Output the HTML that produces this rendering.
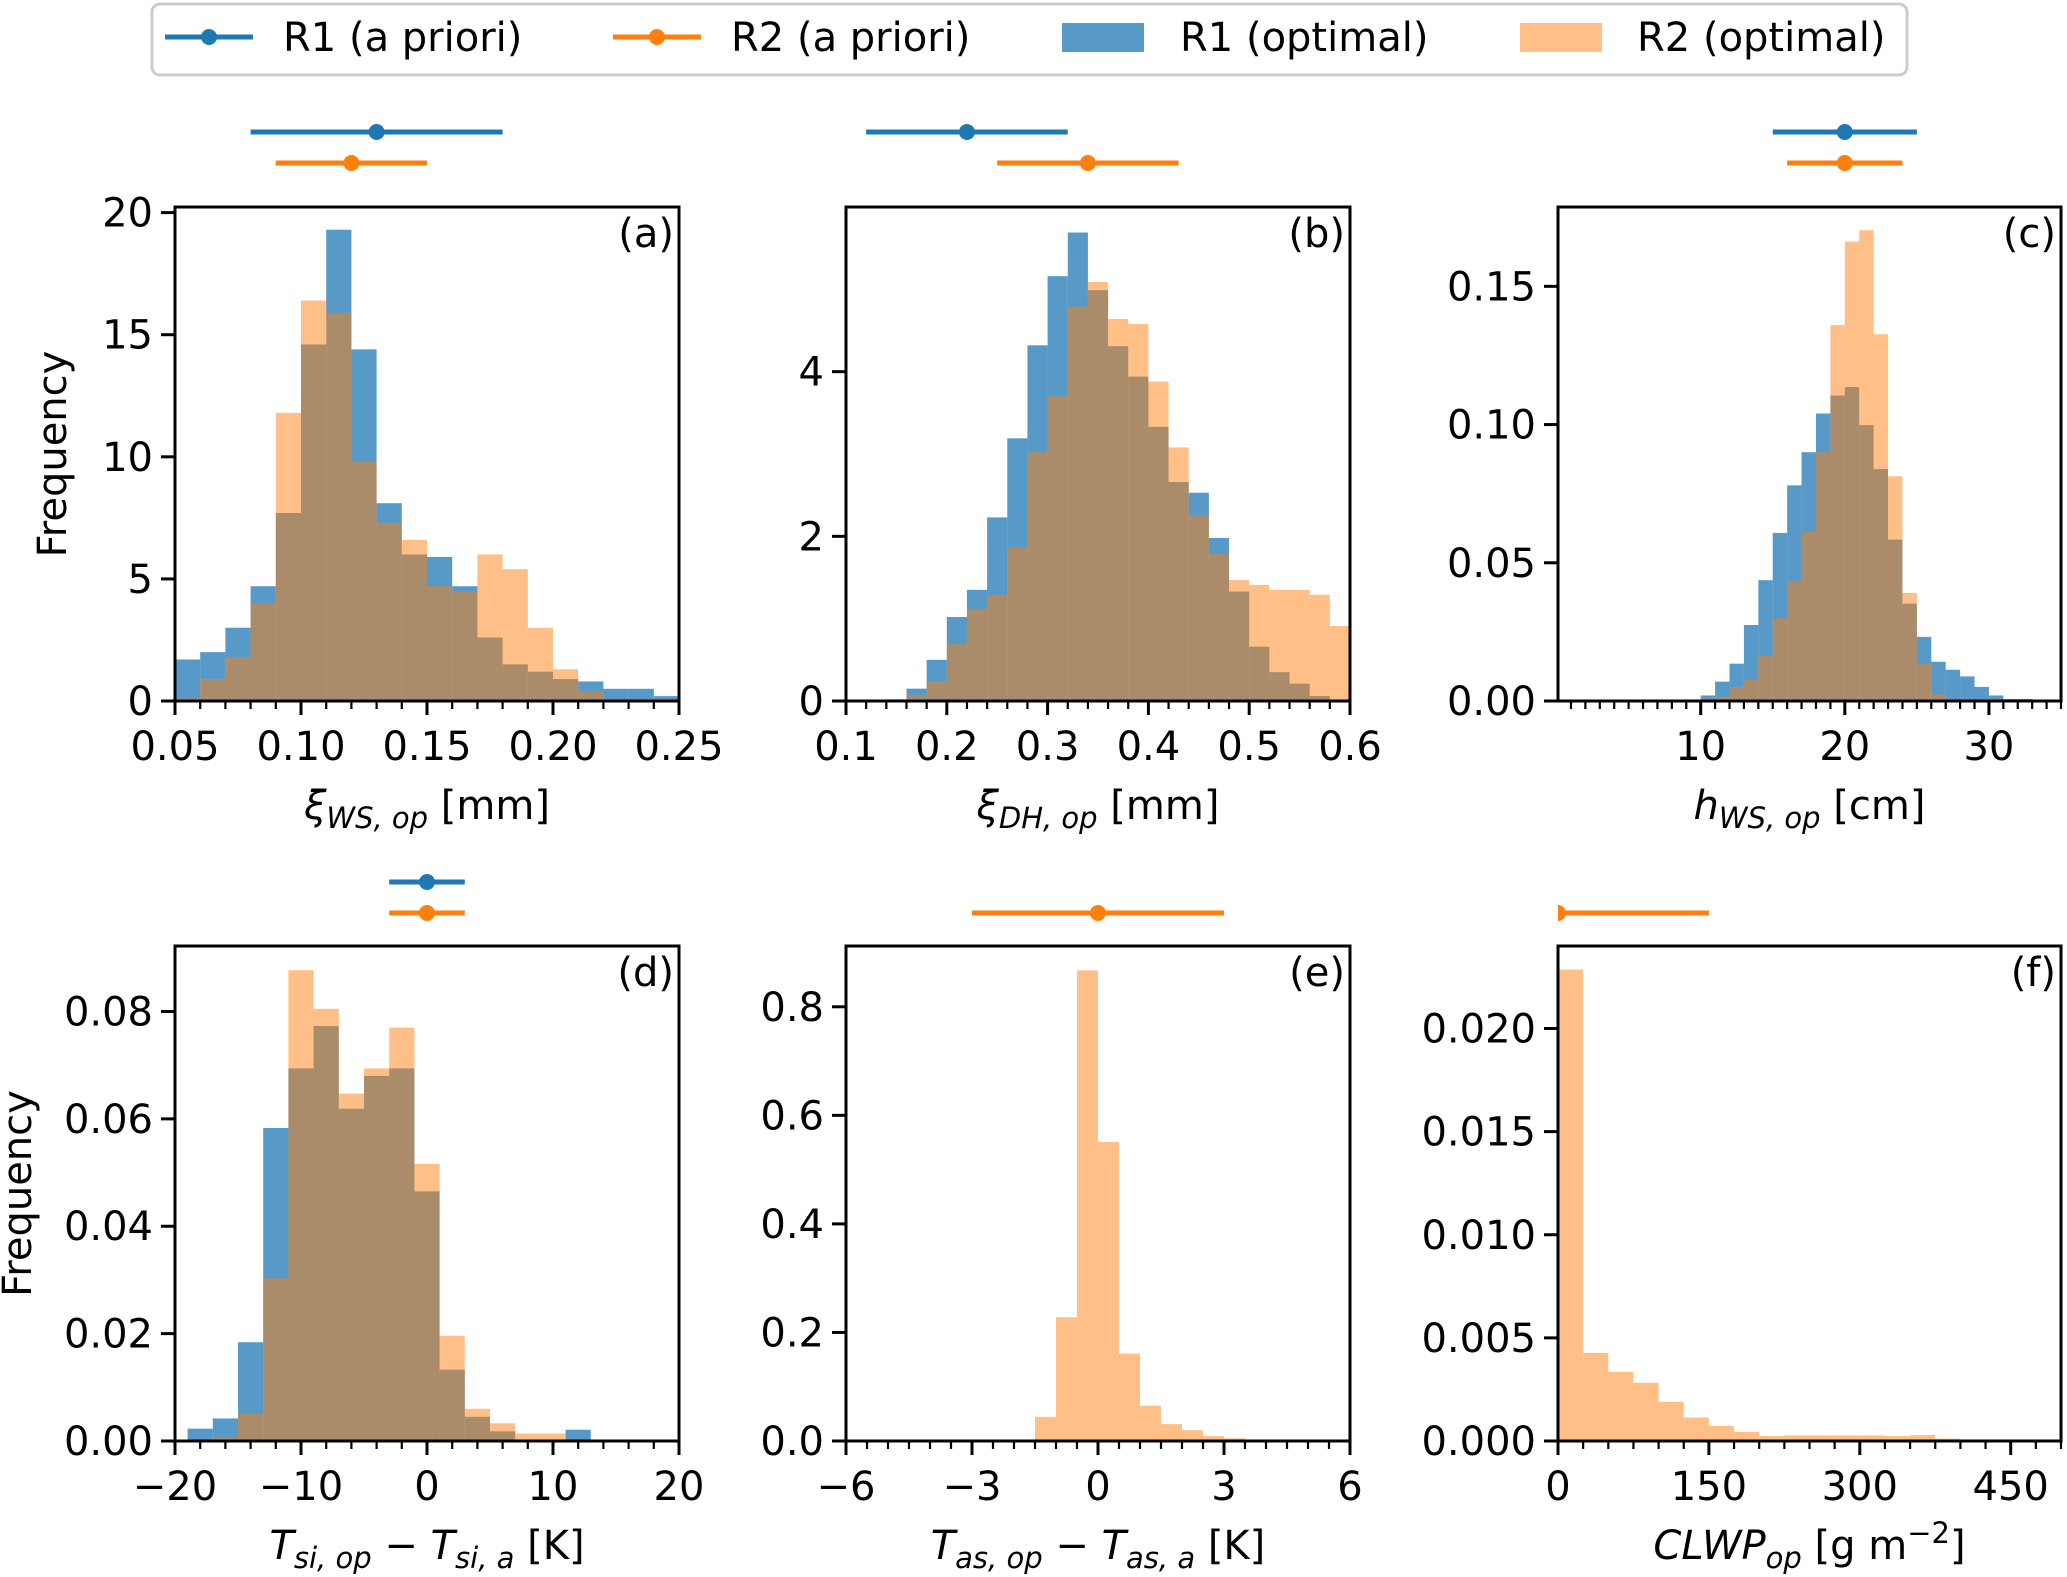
<!DOCTYPE html>
<html><head><meta charset="utf-8"><style>
html,body{margin:0;padding:0;background:#fff}
svg{display:block;font-family:"DejaVu Sans","Liberation Sans",sans-serif}
</style></head><body>
<svg id="fig" xmlns="http://www.w3.org/2000/svg" width="2067" height="1577" viewBox="0 0 2067 1577">
<g>
<rect x="152" y="4" width="1755" height="71" rx="8" fill="#fff" stroke="#cccccc" stroke-width="3"/>
<g>
<line x1="165" y1="37" x2="253" y2="37" stroke="#1f77b4" stroke-width="5"/><circle cx="209" cy="37" r="8" fill="#1f77b4"/>
<text x="283" y="51" font-size="40">R1 (a priori)</text></g>
<g>
<line x1="613" y1="37" x2="701" y2="37" stroke="#ff7f0e" stroke-width="5"/><circle cx="657" cy="37" r="8" fill="#ff7f0e"/>
<text x="731" y="51" font-size="40">R2 (a priori)</text></g>
<g>
<rect x="1062" y="23" width="82" height="29" fill="#1f77b4" fill-opacity="0.75"/>
<text x="1180" y="51" font-size="40">R1 (optimal)</text></g>
<g>
<rect x="1520" y="23" width="82" height="29" fill="#ff7f0e" fill-opacity="0.5"/>
<text x="1637" y="51" font-size="40">R2 (optimal)</text></g>
</g>
</svg>
<script>
// ---- Panel (a) ----
const aBinStart = 0.05, aBinWidth = 0.01;
const aR1 = [1.7,2.0,3.0,4.7,7.7,14.6,19.3,14.4,8.1,6.0,5.9,4.7,2.6,1.5,1.2,0.9,0.8,0.5,0.5,0.2];
const aR2 = [0.1,0.9,1.8,4.0,11.8,16.4,15.9,9.8,7.3,6.6,4.7,4.5,6.0,5.4,3.0,1.3,0.4,0,0,0];
const aYTicks = [0,5,10,15,20];
const aYTickLabels = ["0","5","10","15","20"];
const aXTicks = [0.05,0.10,0.15,0.20,0.25];
const aXTickLabels = ["0.05","0.10","0.15","0.20","0.25"];
const aPriorR1 = [0.13,0.08,0.18];
const aPriorR2 = [0.12,0.09,0.15];
// ---- Panel (b) ----
const bBinStart = 0.10, bBinWidth = 0.02;
const bR1 = [0,0,0.02,0.15,0.5,1.02,1.35,2.23,3.19,4.32,5.16,5.69,4.99,4.31,3.94,3.33,2.66,2.53,1.98,1.33,0.66,0.35,0.21,0.06,0];
const bR2 = [0,0,0,0.07,0.24,0.69,1.12,1.29,1.87,3.02,3.70,4.79,5.09,4.64,4.58,3.88,3.08,2.26,1.79,1.47,1.41,1.35,1.35,1.29,0.91];
const bYTicks = [0,2,4];
const bYTickLabels = ["0","2","4"];
const bXTicks = [0.1,0.2,0.3,0.4,0.5,0.6];
const bXTickLabels = ["0.1","0.2","0.3","0.4","0.5","0.6"];
const bPriorR1 = [0.22,0.12,0.32];
const bPriorR2 = [0.34,0.25,0.43];
// ---- Panel (c) ----
const cBinStart = 9, cBinWidth = 1;
const cR1 = [0.0003,0.002,0.007,0.0135,0.0275,0.0437,0.0608,0.078,0.09,0.104,0.1105,0.1136,0.0998,0.0839,0.0584,0.0352,0.0232,0.0142,0.0113,0.0089,0.0051,0.002,0.0007,0.0007];
const cR2 = [0,0,0.0015,0.005,0.0077,0.0162,0.0299,0.0432,0.0612,0.09,0.136,0.1662,0.1703,0.1327,0.0813,0.0391,0.0135,0.0024,0,0,0,0,0,0];
const cYTicks = [0,0.05,0.10,0.15];
const cYTickLabels = ["0.00","0.05","0.10","0.15"];
const cXTicks = [10,20,30];
const cXTickLabels = ["10","20","30"];
const cPriorR1 = [20,15,25];
const cPriorR2 = [20,16,24];
// ---- Panel (d) ----
const dBinStart = -19, dBinWidth = 2;
const dR1 = [0.0023,0.0042,0.0184,0.0583,0.0694,0.0773,0.0619,0.068,0.0694,0.0465,0.0133,0.0045,0.0018,0,0,0.0021];
const dR2 = [0,0.0006,0.0051,0.0303,0.0877,0.0805,0.0647,0.0694,0.077,0.0516,0.0196,0.006,0.0033,0.0014,0.0014,0];
const dYTicks = [0,0.02,0.04,0.06,0.08];
const dYTickLabels = ["0.00","0.02","0.04","0.06","0.08"];
const dXTicks = [-20,-10,0,10,20];
const dXTickLabels = ["\u221220","\u221210","0","10","20"];
const dPriorR1 = [0,-3,3];
const dPriorR2 = [0,-3,3];
// ---- Panel (e) ----
const eBinStart = -1.5, eBinWidth = 0.5;
const eR1 = [];
const eR2 = [0.0445,0.228,0.867,0.551,0.161,0.065,0.031,0.020,0.009,0.005];
const eYTicks = [0,0.2,0.4,0.6,0.8];
const eYTickLabels = ["0.0","0.2","0.4","0.6","0.8"];
const eXTicks = [-6,-3,0,3,6];
const eXTickLabels = ["\u22126","\u22123","0","3","6"];
const ePriorR2 = [0,-3,3];
// ---- Panel (f) ----
const fBinStart = 0, fBinWidth = 25;
const fR1 = [];
const fR2 = [0.02286,0.00427,0.00335,0.00282,0.0019,0.00114,0.00073,0.00044,0.00024,0.00027,0.00027,0.00027,0.00027,0.00024,0.00029,0.00011,0.00005];
const fYTicks = [0,0.005,0.010,0.015,0.020];
const fYTickLabels = ["0.000","0.005","0.010","0.015","0.020"];
const fXTicks = [0,150,300,450];
const fXTickLabels = ["0","150","300","450"];
const fPriorR2 = [0,-150,150];

const NS = "http://www.w3.org/2000/svg";
const svg = document.getElementById('fig');
function mk(tag, attrs, parent){
  const e = document.createElementNS(NS, tag);
  for (const k in attrs) e.setAttribute(k, attrs[k]);
  (parent||svg).appendChild(e);
  return e;
}
const panels = [
 {id:'a', box:[175,207,679,701], xr:[0.05,0.25], yr:[0,20.23], bs:aBinStart, bw:aBinWidth, r1:aR1, r2:aR2, yt:aYTicks, ytl:aYTickLabels, xt:aXTicks, xtl:aXTickLabels, minor:0.01, p1:aPriorR1, p2:aPriorR2, py:[132,163], ylab:55,
  xlab:[['ξ',1,0],['WS, op',1,1],[' [mm]',0,0]]},
 {id:'b', box:[846,207,1350,701], xr:[0.1,0.6], yr:[0,6.0], bs:bBinStart, bw:bBinWidth, r1:bR1, r2:bR2, yt:bYTicks, ytl:bYTickLabels, xt:bXTicks, xtl:bXTickLabels, minor:0.02, p1:bPriorR1, p2:bPriorR2, py:[132,163],
  xlab:[['ξ',1,0],['DH, op',1,1],[' [mm]',0,0]]},
 {id:'c', box:[1558,207,2061,701], xr:[0.1,35], yr:[0,0.1787], bs:cBinStart, bw:cBinWidth, r1:cR1, r2:cR2, yt:cYTicks, ytl:cYTickLabels, xt:cXTicks, xtl:cXTickLabels, minor:1, p1:cPriorR1, p2:cPriorR2, py:[132,163],
  xlab:[['h',1,0],['WS, op',1,1],[' [cm]',0,0]]},
 {id:'d', box:[175,946,679,1441], xr:[-20,20], yr:[0,0.0922], bs:dBinStart, bw:dBinWidth, r1:dR1, r2:dR2, yt:dYTicks, ytl:dYTickLabels, xt:dXTicks, xtl:dXTickLabels, minor:2, p1:dPriorR1, p2:dPriorR2, py:[882,913], ylab:20,
  xlab:[['T',1,0],['si, op',1,1],[' \u2212 ',0,0],['T',1,0],['si, a',1,1],[' [K]',0,0]]},
 {id:'e', box:[846,946,1350,1441], xr:[-6,6], yr:[0,0.912], bs:eBinStart, bw:eBinWidth, r1:eR1, r2:eR2, yt:eYTicks, ytl:eYTickLabels, xt:eXTicks, xtl:eXTickLabels, minor:0.5, p1:null, p2:ePriorR2, py:[882,913],
  xlab:[['T',1,0],['as, op',1,1],[' \u2212 ',0,0],['T',1,0],['as, a',1,1],[' [K]',0,0]]},
 {id:'f', box:[1558,946,2061,1441], xr:[0,500], yr:[0,0.024], bs:fBinStart, bw:fBinWidth, r1:fR1, r2:fR2, yt:fYTicks, ytl:fYTickLabels, xt:fXTicks, xtl:fXTickLabels, minor:25, p1:null, p2:fPriorR2, py:[882,913],
  xlab:[['CLWP',1,0],['op',1,1],[' [g m',0,0],['\u22122',0,2],[']',0,0]]}
];
panels.forEach(p => {
  const [L,T,R,B] = p.box;
  const sx = v => L + (v - p.xr[0]) / (p.xr[1] - p.xr[0]) * (R - L);
  const sy = v => B - (v - p.yr[0]) / (p.yr[1] - p.yr[0]) * (B - T);
  const g = mk('g', {});
  
  
  const cp = mk('clipPath', {id:'clip-'+p.id}, g);
  mk('rect', {x:L, y:T, width:R-L, height:B-T}, cp);
  const cpx = mk('clipPath', {id:'clipx-'+p.id}, g);
  mk('rect', {x:L, y:0, width:R-L, height:T}, cpx);
  const hg = mk('g', {'clip-path':'url(#clip-'+p.id+')'}, g);
  p.r1.forEach((v,i) => {
    if (v <= 0) return;
    const x0 = sx(p.bs + i*p.bw), x1 = sx(p.bs + (i+1)*p.bw);
    const r = mk('rect', {x:x0, y:sy(v), width:x1-x0, height:B-sy(v), fill:'#1f77b4', 'fill-opacity':0.75}, hg);
    
    
  });
  p.r2.forEach((v,i) => {
    if (v <= 0) return;
    const x0 = sx(p.bs + i*p.bw), x1 = sx(p.bs + (i+1)*p.bw);
    const r = mk('rect', {x:x0, y:sy(v), width:x1-x0, height:B-sy(v), fill:'#ff7f0e', 'fill-opacity':0.5}, hg);
    
    
  });
  const fr = mk('rect', {x:L, y:T, width:R-L, height:B-T, fill:'none', stroke:'#000', 'stroke-width':3}, g);
  
  
  const nmin = Math.round((p.xr[1]-p.xr[0])/p.minor)+2;
  const start = Math.ceil(p.xr[0]/p.minor - 1e-6)*p.minor;
  for (let k=0;k<nmin;k++){
    const v = start + k*p.minor;
    if (v > p.xr[1] + 1e-9) break;
    mk('line', {x1:sx(v), y1:B, x2:sx(v), y2:B+8, stroke:'#000', 'stroke-width':2.2}, g);
  }
  p.xt.forEach((v,i) => {
    mk('line', {x1:sx(v), y1:B, x2:sx(v), y2:B+14, stroke:'#000', 'stroke-width':3}, g);
    const t = mk('text', {x:sx(v), y:B+59, 'font-size':40, 'text-anchor':'middle'}, g);
    t.textContent = p.xtl[i];
    
    
  });
  p.yt.forEach((v,i) => {
    mk('line', {x1:L-14, y1:sy(v), x2:L, y2:sy(v), stroke:'#000', 'stroke-width':3}, g);
    const t = mk('text', {x:L-22, y:sy(v)+14, 'font-size':40, 'text-anchor':'end'}, g);
    t.textContent = p.ytl[i];
    
    
  });
  const pl = mk('text', {x:R-5, y:T+40, 'font-size':40, 'text-anchor':'end'}, g);
  pl.textContent = '(' + p.id + ')';
  
  
  const xl = mk('text', {x:(L+R)/2, y:B+118, 'font-size':40, 'text-anchor':'middle'}, g);
  
  
  let shift = 0;
  p.xlab.forEach(([s,it,sub]) => {
    let dy = 0, fs = 40;
    if (sub===1){ dy = 9 - shift; shift = 9; fs = 29; }
    else if (sub===2){ dy = -16 - shift; shift = -16; fs = 29; }
    else { dy = -shift; shift = 0; }
    const ts = mk('tspan', {dy:dy, 'font-size':fs}, xl);
    if (it) ts.setAttribute('font-style','italic');
    ts.setAttribute('xml:space','preserve');
    ts.textContent = s;
  });
  if (p.ylab){
    const cy = (T+B)/2, lx = p.ylab;
    const yl = mk('text', {x:lx, y:cy, 'font-size':40, 'text-anchor':'middle', transform:'rotate(-90 '+lx+' '+cy+')', 'dominant-baseline':'middle'}, g);
    yl.textContent = 'Frequency';
    
    
  }
  const eg = mk('g', {'clip-path':'url(#clipx-'+p.id+')'}, g);
  [[p.p1,'#1f77b4',p.py[0],'r1'],[p.p2,'#ff7f0e',p.py[1],'r2']].forEach(([d,c,y,nm]) => {
    if (!d) return;
    const eb = mk('g', {}, eg);
    
    
    mk('line', {x1:sx(d[1]), y1:y, x2:sx(d[2]), y2:y, stroke:c, 'stroke-width':5}, eb);
    mk('circle', {cx:sx(d[0]), cy:y, r:8, fill:c}, eb);
  });
});
</script>
</body></html>
